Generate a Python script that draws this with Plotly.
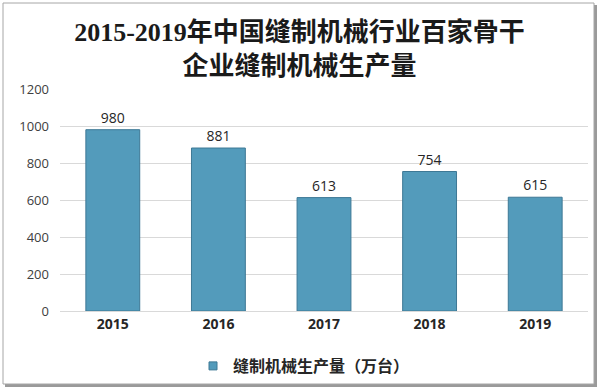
import plotly.graph_objects as go

years = ["2015", "2016", "2017", "2018", "2019"]
values = [980, 881, 613, 754, 615]
series_name = "<b>缝制机械生产量（万台）</b>"
title_text = "2015-2019年中国缝制机械行业百家骨干<br>企业缝制机械生产量"
y_ticks = [0, 200, 400, 600, 800, 1000, 1200]

W, H = 599, 390
ml, mr, mt, mb = 60, 11, 89, 79
pw, ph = W - ml - mr, H - mt - mb

def px_x(px):
    return (px - ml) / pw

def px_y(py):
    return (H - mb - py) / ph

bar_color = "#539bbb"

fig = go.Figure()
fig.add_trace(go.Bar(
    x=years, y=values, name=series_name, showlegend=False,
    marker=dict(color=bar_color, line=dict(color="#3d7895", width=1)),
    text=[str(v) for v in values], textposition="outside",
    textfont=dict(family="Open Sans, DejaVu Sans", size=14, color="#262626"),
    cliponaxis=False,
))
fig.add_trace(go.Scatter(
    x=[None], y=[None], mode="markers", name=series_name, showlegend=True,
    marker=dict(symbol="square", size=8, color=bar_color, line=dict(color="#3d7895", width=1)),
))

shapes = [
    dict(type="rect", xref="paper", yref="paper",
         x0=px_x(5), x1=px_x(597), y0=px_y(5), y1=px_y(387),
         line=dict(width=0), fillcolor="#9a9a9a", layer="below"),
    dict(type="rect", xref="paper", yref="paper",
         x0=px_x(3), x1=px_x(594), y0=px_y(3), y1=px_y(384),
         line=dict(color="#a6a6a6", width=1), fillcolor="white", layer="below"),
]

fig.update_layout(
    width=W, height=H,
    margin=dict(l=ml, r=mr, t=mt, b=mb, autoexpand=False),
    paper_bgcolor="white", plot_bgcolor="rgba(0,0,0,0)",
    shapes=shapes,
    bargap=0.49,
    showlegend=True,
    legend=dict(orientation="h", x=px_x(193), xanchor="left", y=px_y(366), yanchor="middle",
                font=dict(family="Noto Sans CJK SC", size=16, color="#262626"),
                bgcolor="rgba(0,0,0,0)", itemwidth=30),
    title=dict(text=title_text, x=0.5, xref="container", xanchor="center",
               y=1 - 41 / H, yref="container", yanchor="middle",
               font=dict(family="Liberation Serif, Noto Sans CJK SC", size=26, color="#1a1a1a", weight="bold")),
    xaxis=dict(tickfont=dict(family="Open Sans, DejaVu Sans", size=14, color="#262626", weight="bold"),
               showline=True, linecolor="#d9d9d9", ticks="", showgrid=False),
    yaxis=dict(range=[0, 1200], tickvals=y_ticks,
               tickfont=dict(family="Open Sans, DejaVu Sans", size=13, color="#404040"),
               showgrid=True, gridcolor="#d9d9d9", gridwidth=1, zeroline=False,
               showline=False, ticks="", ticklabelstandoff=10),
)

fig.write_html("out.html", config={"displayModeBar": False},
               post_script="document.body.style.margin='0';")
